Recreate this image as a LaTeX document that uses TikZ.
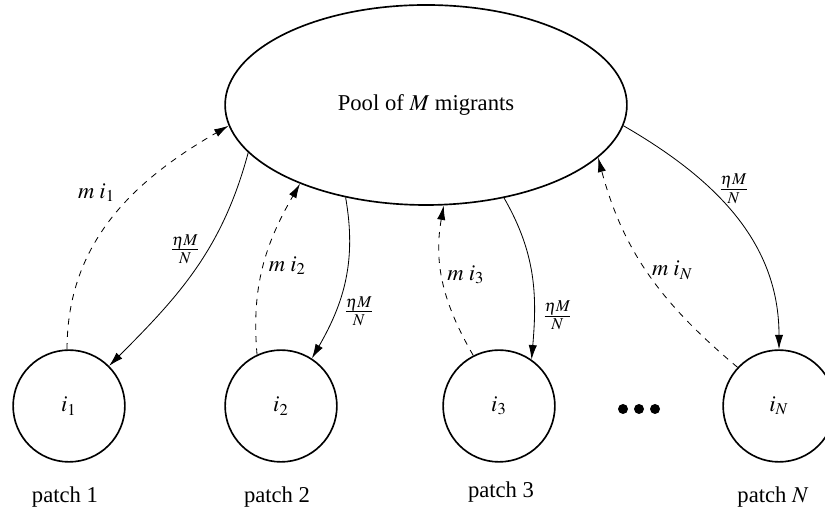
\documentclass[11pt,tikz,border=0pt]{standalone}
\usepackage{mathptmx}
\usepackage{fontspec}
\setmainfont{Liberation Serif}
\usetikzlibrary{arrows,arrows.meta,shapes}
\tikzstyle{pool}=[ellipse, draw, thick, minimum width=6.83cm, minimum height=3.4cm]
\tikzstyle{patch}=[circle, draw, thick, inner sep=0pt, minimum size=1.9cm]
\tikzstyle{dot}=[circle, fill, inner sep=0pt, minimum size=0.17cm]
\tikzstyle{flow}=[-{Latex[length=7pt,width=4pt]}]
\tikzstyle{mig}=[-{Latex[length=7pt,width=4pt]}, dashed]

\begin{document}
\begin{tikzpicture}[x=0.017cm, y=0.017cm]
	\useasboundingbox (0,0) rectangle (825,514);

		% Pool of migrants
		\node[pool] (pool) at (426,409) {Pool of $M$ migrants};
		% Patches
		\foreach \xpos/\lab/\nm in {69/1/p1, 281/2/p2, 499/3/p3, 779/N/pN}
		\node[patch] (\nm) at (\xpos,108) {$i_{\lab}$};
		\foreach \xpos/\ypos/\lab/\nm in {65/17/1/t1, 277/17/2/t2, 501/22/3/t3, 773/17/$N$/tN}
		\node (\nm) at (\xpos,\ypos) {patch \lab};
		% dots
		\foreach \xpos/\nm in {623/d1, 639/d2, 655/d3}
		\node[dot] (\nm) at (\xpos,105) {};

		\draw[mig] (p1.92) to[out=90,in=210] node[pos=0.62, left=6pt] {$m\;i_1$} (pool.186);
		\draw[flow] (pool.195) to[out=-105,in=45] node[pos=0.4, left] {$\frac{\eta M}{N}$} (p1.45);
		\draw[mig] (p2.115) to[out=95,in=240] node[pos=0.5, right, inner sep=2.5pt] {$m\;i_2$} (pool.212);
		\draw[flow] (pool.229) to[out=-80,in=60] node[pos=0.7, right] {$\frac{\eta M}{N}$} (p2.57);
		\draw[mig] (p3.117) to[out=120,in=-100] node[pos=0.56, right, inner sep=2.5pt] {$m\;i_3$} (pool.280);
		\draw[flow] (pool.310) to[out=-60,in=85] node[pos=0.75, right] {$\frac{\eta M}{N}$} (p3.55);
		\draw[mig] (pN.137) to[out=140,in=-75] node[pos=0.52, right, inner sep=2.5pt] {$m\;i_N$} (pool.343);
		\draw[flow] (pool.354) to[out=-30,in=90] node[pos=0.36, right] {$\frac{\eta M}{N}$} (pN.90);
\end{tikzpicture}
\end{document}
